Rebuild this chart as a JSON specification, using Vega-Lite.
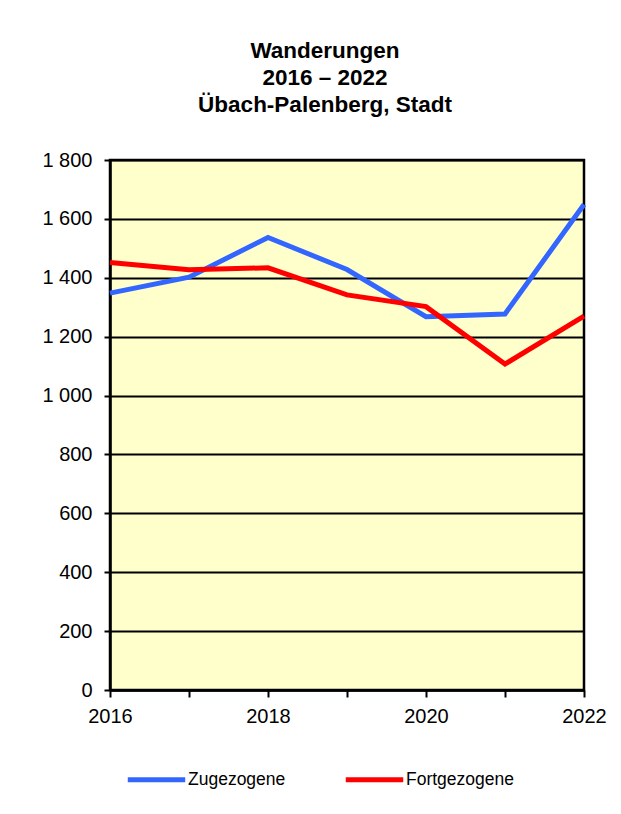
{
  "$schema": "https://vega.github.io/schema/vega-lite/v6.json",
  "width": 474,
  "height": 530,
  "autosize": {"type": "none"},
  "padding": {"left": 110, "top": 160, "right": 37, "bottom": 124},
  "background": "white",
  "title": {
    "text": ["Wanderungen", "2016 – 2022", "Übach-Palenberg, Stadt"],
    "font": "Liberation Sans",
    "fontSize": 22.5,
    "fontWeight": "bold",
    "color": "black",
    "lineHeight": 27,
    "anchor": "middle",
    "dx": -22,
    "offset": 34
  },
  "data": {
    "values": [
      {"year": 2016, "series": "Zugezogene", "value": 1348},
      {"year": 2017, "series": "Zugezogene", "value": 1402},
      {"year": 2018, "series": "Zugezogene", "value": 1537},
      {"year": 2019, "series": "Zugezogene", "value": 1428},
      {"year": 2020, "series": "Zugezogene", "value": 1268},
      {"year": 2021, "series": "Zugezogene", "value": 1277},
      {"year": 2022, "series": "Zugezogene", "value": 1649},
      {"year": 2016, "series": "Fortgezogene", "value": 1452},
      {"year": 2017, "series": "Fortgezogene", "value": 1427},
      {"year": 2018, "series": "Fortgezogene", "value": 1434},
      {"year": 2019, "series": "Fortgezogene", "value": 1342},
      {"year": 2020, "series": "Fortgezogene", "value": 1302},
      {"year": 2021, "series": "Fortgezogene", "value": 1107},
      {"year": 2022, "series": "Fortgezogene", "value": 1270}
    ]
  },
  "mark": {"type": "line", "strokeWidth": 5, "strokeJoin": "miter"},
  "encoding": {
    "x": {
      "field": "year",
      "type": "quantitative",
      "scale": {"domain": [2016, 2022], "nice": false, "zero": false},
      "axis": {
        "title": null,
        "values": [2016, 2017, 2018, 2019, 2020, 2021, 2022],
        "labelExpr": "datum.value % 2 == 0 ? format(datum.value, 'd') : ''",
        "grid": false,
        "domainColor": "black",
        "domainWidth": 2.5,
        "tickColor": "black",
        "tickWidth": 2,
        "tickSize": 7,
        "labelPadding": 9,
        "labelFont": "Liberation Sans",
        "labelFontSize": 20,
        "labelColor": "black",
        "labelFlush": false,
        "labelOverlap": false
      }
    },
    "y": {
      "field": "value",
      "type": "quantitative",
      "scale": {"domain": [0, 1800], "nice": false},
      "axis": {
        "title": null,
        "values": [0, 200, 400, 600, 800, 1000, 1200, 1400, 1600, 1800],
        "labelExpr": "replace(format(datum.value, ','), ',', ' ')",
        "grid": true,
        "gridColor": "black",
        "gridWidth": 1.8,
        "gridOpacity": 1,
        "domainColor": "black",
        "domainWidth": 2.5,
        "tickColor": "black",
        "tickWidth": 2,
        "tickSize": 6,
        "labelPadding": 12,
        "labelFont": "Liberation Sans",
        "labelFontSize": 20,
        "labelColor": "black",
        "labelOverlap": false
      }
    },
    "color": {
      "field": "series",
      "type": "nominal",
      "sort": ["Zugezogene", "Fortgezogene"],
      "scale": {"domain": ["Zugezogene", "Fortgezogene"], "range": ["#3366FF", "#FF0000"]},
      "legend": {
        "title": null,
        "orient": "none",
        "legendX": 15,
        "legendY": 588,
        "direction": "horizontal",
        "symbolType": "stroke",
        "symbolSize": 3300,
        "symbolStrokeWidth": 5,
        "labelFont": "Liberation Sans",
        "labelFontSize": 17.5,
        "labelColor": "black",
        "labelOffset": 0,
        "columnPadding": 49
      }
    }
  },
  "config": {
    "view": {"fill": "#FFFFCC", "stroke": "black", "strokeWidth": 2.5}
  }
}
